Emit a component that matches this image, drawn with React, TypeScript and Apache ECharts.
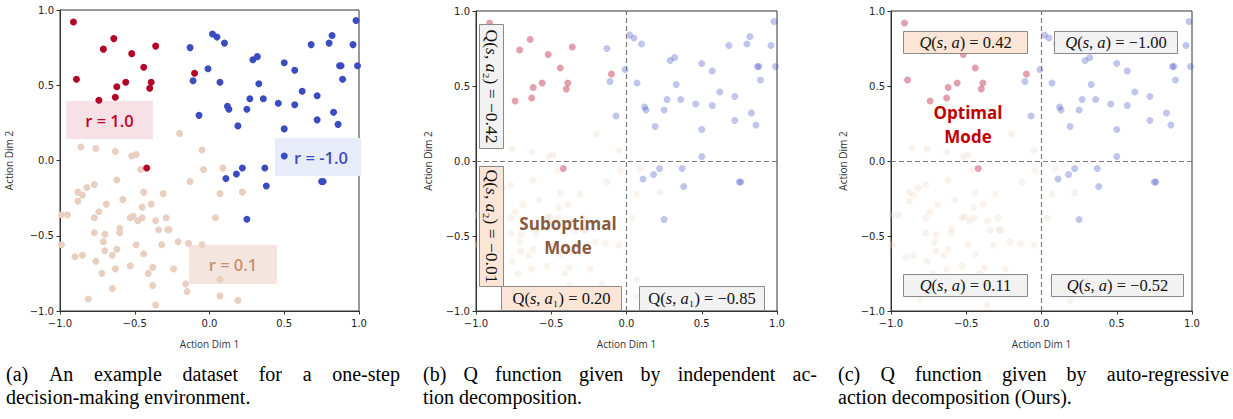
import React, { useEffect, useRef } from "react";
import * as echarts from "echarts";

// ---------- data ----------
const redPoints: [number, number][] = [
  [-0.91, 0.92], [-0.89, 0.54], [-0.71, 0.74], [-0.64, 0.81], [-0.52, 0.71],
  [-0.44, 0.62], [-0.36, 0.76], [-0.56, 0.52], [-0.62, 0.49], [-0.63, 0.42],
  [-0.74, 0.4], [-0.39, 0.52], [-0.4, 0.48], [-0.1, 0.58], [-0.42, -0.05],
];

const bluePoints: [number, number][] = [
  [-0.13, 0.75], [0.02, 0.84], [0.05, 0.82], [0.1, 0.78], [-0.11, 0.53],
  [-0.01, 0.61], [0.07, 0.52], [-0.07, 0.3], [0.12, 0.36], [0.13, 0.34],
  [0.19, 0.23], [0.29, 0.67], [0.32, 0.69], [0.33, 0.51], [0.27, 0.41],
  [0.25, 0.34], [0.36, 0.41], [0.46, 0.38], [0.5, 0.65], [0.57, 0.6],
  [0.57, 0.37], [0.62, 0.46], [0.5, 0.21], [0.72, 0.43], [0.72, 0.27],
  [0.68, 0.77], [0.8, 0.78], [0.82, 0.83], [0.98, 0.93], [0.96, 0.77],
  [0.99, 0.63], [0.87, 0.63], [0.88, 0.63], [0.89, 0.54], [0.83, 0.32],
  [0.86, 0.24], [0.5, 0.03], [0.37, -0.05], [0.38, -0.17], [0.18, -0.09],
  [0.22, -0.05], [0.11, -0.12], [0.25, -0.39], [0.75, -0.14], [0.76, -0.14],
];

const tanPoints: [number, number][] = [
  [-0.86, 0.09], [-0.76, 0.08], [-0.63, 0.06], [-0.52, 0.03], [-0.49, 0.04],
  [-0.46, -0.06], [-0.2, 0.18], [-0.05, 0.07], [-0.04, -0.06], [0.09, -0.05],
  [-0.13, -0.14], [-0.62, -0.13], [-0.77, -0.16], [-0.82, -0.18], [-0.88, -0.21],
  [-0.85, -0.23], [-0.88, -0.27], [-0.44, -0.21], [-0.31, -0.22], [-0.58, -0.26],
  [-0.39, -0.29], [-0.45, -0.31], [-0.69, -0.29], [-0.74, -0.34], [-0.77, -0.38],
  [-0.95, -0.36], [-0.99, -0.36], [-0.53, -0.38], [-0.51, -0.37], [-0.45, -0.38],
  [-0.48, -0.4], [-0.36, -0.4], [-0.29, -0.38], [-0.6, -0.45], [-0.6, -0.48],
  [-0.77, -0.48], [-0.7, -0.49], [-0.71, -0.54], [-0.7, -0.6], [-0.62, -0.59],
  [-0.65, -0.63], [-0.85, -0.63], [-0.9, -0.64], [-0.76, -0.67], [-0.99, -0.56],
  [-0.49, -0.56], [-0.32, -0.56], [-0.44, -0.62], [-0.34, -0.46], [-0.28, -0.46],
  [-0.27, -0.46], [-0.21, -0.54], [-0.14, -0.55], [-0.05, -0.56], [0.04, -0.38],
  [0.07, -0.22], [0.22, -0.21], [-0.53, -0.7], [-0.38, -0.71], [-0.41, -0.75],
  [-0.38, -0.83], [-0.63, -0.72], [-0.72, -0.75], [-0.65, -0.85], [-0.81, -0.92],
  [-0.36, -0.96], [-0.24, -0.72], [-0.16, -0.82], [-0.15, -0.87], [0.07, -0.79],
  [0.07, -0.9], [0.19, -0.93],
];

const tickValues = [-1, -0.5, 0, 0.5, 1];
const refLines = [{ xAxis: 0 }, { yAxis: 0 }];

const captions = [
  ["(a) An example dataset for a one-step", "decision-making environment."],
  ["(b) Q function given by independent ac-", "tion decomposition."],
  ["(c) Q function given by auto-regressive", "action decomposition (Ours)."],
];

// ---------- layout ----------
const grids = [
  { left: 60, top: 10, width: 299, height: 301 },
  { left: 476, top: 11, width: 301, height: 300 },
  { left: 891, top: 11, width: 301, height: 300 },
];
const captionX = [
  [6, 400],
  [423, 817],
  [838, 1229],
];
const yNameGap = [46, 43, 43];

const RED = "#b40426";
const BLUE = "#3b4cc0";
const TAN = "#e8cfc0";
const PEACH = "#fbe5d6";
const GREY = "#f2f2f2";
const BORDER = "#8a8a8a";
const SERIF = '"Liberation Serif", "DejaVu Serif", serif';
const SANS = '"Open Sans", "Noto Sans", sans-serif';
const CAPTION_SIZE = 20;

function fmtTick(v: number) {
  return v.toFixed(1).replace("-", "\u2212");
}

function justifiedLine(text: string, x0: number, x1: number, y: number, size: number, justify: boolean) {
  const ctx = document.createElement("canvas").getContext("2d")!;
  ctx.font = `${size}px "Liberation Serif"`;
  const words = text.split(" ");
  const widths = words.map((w) => ctx.measureText(w).width);
  const total = widths.reduce((a, b) => a + b, 0);
  const gap = justify && words.length > 1 ? (x1 - x0 - total) / (words.length - 1) : ctx.measureText(" ").width;
  const els: any[] = [];
  let x = x0;
  words.forEach((w, i) => {
    els.push({
      type: "text",
      x,
      y,
      z: 20,
      style: {
        text: w,
        fill: "#000",
        fontSize: size,
        fontFamily: SERIF,
        align: "left",
        verticalAlign: "middle",
        textAlign: "left",
        textVerticalAlign: "middle",
      },
    });
    x += widths[i] + gap;
  });
  return els;
}

function box(x: number, y: number, w: number, h: number, fill: string, stroke?: string, z = 10) {
  return {
    type: "rect",
    z,
    shape: { x, y, width: w, height: h },
    style: stroke ? { fill, stroke, lineWidth: 1 } : { fill },
  };
}

function label(x: number, y: number, text: string, opts: any = {}) {
  return {
    type: "text",
    x,
    y,
    z: opts.z ?? 11,
    rotation: opts.rotation ?? 0,
    style: {
      text,
      fill: opts.fill ?? "#111",
      fontSize: opts.fontSize ?? 16,
      fontFamily: opts.fontFamily ?? SERIF,
      fontWeight: opts.fontWeight ?? "normal",
      fontStyle: opts.fontStyle ?? "normal",
      align: "center",
      verticalAlign: "middle",
      textAlign: "center",
      textVerticalAlign: "middle",
      rich: opts.rich,
    },
  };
}

const mathRich = {
  n: { fontSize: 16.5, fontFamily: SERIF, fill: "#111" },
  i: { fontSize: 16.5, fontFamily: SERIF, fontStyle: "italic", fill: "#111" },
};
const mathRichV = {
  n: { fontSize: 17.5, fontFamily: SERIF, fill: "#111" },
  i: { fontSize: 17.5, fontFamily: SERIF, fontStyle: "italic", fill: "#111" },
};

function qb(sub: string, val: string) {
  return `{n|Q(}{i|s}{n|, }{i|a}{n|${sub}) = ${val}}`;
}
function qc(val: string) {
  return `{i|Q}{n|(}{i|s}{n|, }{i|a}{n|) = ${val}}`;
}

export default function App() {
  const ref = useRef<HTMLDivElement>(null);

  useEffect(() => {
    if (!ref.current) return;
    const chart = echarts.init(ref.current, undefined, { renderer: "svg" });

    const xAxes: any[] = [];
    const yAxes: any[] = [];
    const series: any[] = [];

    grids.forEach((g, i) => {
      const common = {
        gridIndex: i,
        type: "value",
        min: -1,
        max: 1,
        interval: 0.5,
        splitLine: { show: false },
        axisLine: { show: true, onZero: false, lineStyle: { color: "#333", width: 1 } },
        axisTick: { show: true, inside: false, length: 3.5, lineStyle: { color: "#333" } },
        axisLabel: {
          formatter: fmtTick,
          fontSize: 10,
          fontFamily: '"DejaVu Sans", sans-serif',
          color: "#222",
        },
        nameLocation: "middle",
        nameTextStyle: { fontSize: 10, fontFamily: SANS, color: "#333" },
      };
      xAxes.push({
        ...common,
        name: "Action Dim 1",
        nameGap: 28,
        axisLabel: { ...common.axisLabel, margin: 7 },
      });
      yAxes.push({
        ...common,
        name: "Action Dim 2",
        nameGap: yNameGap[i],
        nameRotate: 90,
        axisLabel: { ...common.axisLabel, margin: 6 },
      });

      const faded = i > 0;
      const sym = 7;
      series.push({
        type: "scatter",
        xAxisIndex: i,
        yAxisIndex: i,
        data: tanPoints,
        symbolSize: sym,
        itemStyle: { color: TAN, opacity: faded ? 0.28 : 1 },
        silent: true,
        markLine: faded
          ? {
              silent: true,
              symbol: "none",
              label: { show: false },
              lineStyle: { type: [5, 3], color: "#7a7a7a", width: 1.2 },
              data: refLines,
            }
          : undefined,
      });
      series.push({
        type: "scatter",
        xAxisIndex: i,
        yAxisIndex: i,
        data: redPoints,
        symbolSize: sym,
        itemStyle: { color: RED, opacity: faded ? 0.38 : 1 },
        silent: true,
      });
      series.push({
        type: "scatter",
        xAxisIndex: i,
        yAxisIndex: i,
        data: bluePoints,
        symbolSize: sym,
        itemStyle: { color: BLUE, opacity: faded ? 0.32 : 1 },
        silent: true,
      });
    });

    const graphics: any[] = [];
    // Panel (a) reward labels (behind points)
    graphics.push(box(66, 101, 87, 38, "#f8e1e6", undefined, 0));
    graphics.push(label(109.5, 120, "r = 1.0", { fill: "#c0002a", fontSize: 16.5, fontFamily: SANS, fontWeight: 600, z: 1 }));
    graphics.push(box(275, 138, 86, 38, "#e8ebf8", undefined, 0));
    graphics.push(label(321, 157, "r = -1.0", { fill: BLUE, fontSize: 16.5, fontFamily: SANS, fontWeight: 600, z: 1 }));
    graphics.push(box(189, 245, 88, 39, "#f4e6df", undefined, 0));
    graphics.push(label(233, 264.5, "r = 0.1", { fill: "#c8906e", fontSize: 16.5, fontFamily: SANS, fontWeight: 600, z: 1 }));

    // Panel (b)
    graphics.push(box(479.5, 24.5, 24, 124, GREY, BORDER));
    graphics.push(label(491.5, 86.5, qb("\u2082", "\u22120.42"), { rotation: -Math.PI / 2, rich: mathRichV }));
    graphics.push(box(479.5, 166.5, 24, 120, PEACH, BORDER));
    graphics.push(label(491.5, 226.5, qb("\u2082", "\u22120.01"), { rotation: -Math.PI / 2, rich: mathRichV }));
    graphics.push(box(501.5, 286.5, 120, 24, PEACH, BORDER));
    graphics.push(label(561.5, 298.5, qb("\u2081", "0.20"), { rich: mathRich }));
    graphics.push(box(639.5, 286.5, 125, 24, GREY, BORDER));
    graphics.push(label(702, 298.5, qb("\u2081", "\u22120.85"), { rich: mathRich }));
    graphics.push(label(568, 223, "Suboptimal", { fill: "#8b5a3c", fontSize: 17, fontFamily: SANS, fontWeight: "bold" }));
    graphics.push(label(568, 247, "Mode", { fill: "#8b5a3c", fontSize: 17, fontFamily: SANS, fontWeight: "bold" }));

    // Panel (c)
    graphics.push(box(903.5, 31.5, 124, 22, PEACH, BORDER));
    graphics.push(label(965.5, 42.5, qc("0.42"), { rich: mathRich }));
    graphics.push(box(1054.5, 31.5, 123, 22, GREY, BORDER));
    graphics.push(label(1116, 42.5, qc("\u22121.00"), { rich: mathRich }));
    graphics.push(box(903.5, 274.5, 124, 22, GREY, BORDER));
    graphics.push(label(965.5, 285.5, qc("0.11"), { rich: mathRich }));
    graphics.push(box(1051.5, 274.5, 132, 22, GREY, BORDER));
    graphics.push(label(1117.5, 285.5, qc("\u22120.52"), { rich: mathRich }));
    graphics.push(label(968, 112, "Optimal", { fill: "#c00000", fontSize: 17, fontFamily: SANS, fontWeight: "bold" }));
    graphics.push(label(968, 136, "Mode", { fill: "#c00000", fontSize: 17, fontFamily: SANS, fontWeight: "bold" }));

    // Captions
    captions.forEach((lines, i) => {
      const [x0, x1] = captionX[i];
      graphics.push(...justifiedLine(lines[0], x0, x1, 374, CAPTION_SIZE, true));
      graphics.push(...justifiedLine(lines[1], x0, x1, 396.5, CAPTION_SIZE, false));
    });

    chart.setOption({
      animation: false,
      backgroundColor: "#fff",
      grid: grids.map((g) => ({
        ...g,
        show: true,
        borderColor: "#333",
        borderWidth: 1,
        backgroundColor: "transparent",
        containLabel: false,
      })),
      xAxis: xAxes,
      yAxis: yAxes,
      series,
      graphic: { elements: graphics },
    });

    return () => chart.dispose();
  }, []);

  return (
    <div
      ref={ref}
      style={{ position: "absolute", left: 0, top: 0, width: 1233, height: 419, background: "#fff" }}
    />
  );
}
